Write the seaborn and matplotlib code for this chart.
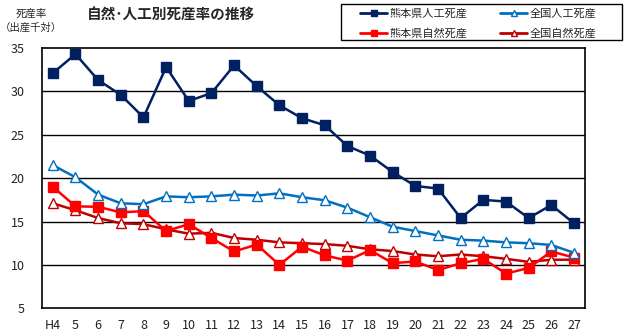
import matplotlib
matplotlib.use("Agg")
import matplotlib.pyplot as plt
import seaborn as sns
import pandas as pd
import numpy as np
from matplotlib.lines import Line2D
from matplotlib.patches import Rectangle

sns.set_theme(style="white")
plt.rcParams['font.family'] = ['Noto Sans CJK JP', 'DejaVu Sans']

years = ["H4"] + [str(i) for i in range(5, 28)]
kuma_art = [32.1, 34.3, 31.3, 29.6, 27.0, 32.8, 28.9, 29.8, 33.0, 30.6, 28.4, 26.9,
            26.1, 23.7, 22.6, 20.7, 19.1, 18.8, 15.4, 17.5, 17.3, 15.4, 16.9, 14.8]
nat_art = [21.5, 20.1, 18.1, 17.1, 17.0, 17.9, 17.8, 17.9, 18.1, 18.0, 18.25, 17.8,
           17.45, 16.6, 15.5, 14.4, 13.9, 13.4, 12.9, 12.8, 12.6, 12.5, 12.3, 11.4]
kuma_nat = [19.0, 16.75, 16.7, 16.05, 16.2, 13.9, 14.7, 13.1, 11.55, 12.35, 10.0, 12.1,
            11.1, 10.5, 11.7, 10.2, 10.4, 9.4, 10.2, 10.7, 9.0, 9.65, 11.55, 10.85]
nat_nat = [17.1, 16.3, 15.4, 14.8, 14.7, 14.1, 13.6, 13.7, 13.1, 12.9, 12.6, 12.5,
           12.4, 12.2, 11.8, 11.6, 11.2, 11.0, 11.2, 11.0, 10.7, 10.35, 10.6, 10.6]

series = [
    ("熊本県人工死産", kuma_art, "#002060", "s", "#002060"),
    ("全国人工死産", nat_art, "#0070C0", "^", "white"),
    ("熊本県自然死産", kuma_nat, "#FF0000", "s", "#FF0000"),
    ("全国自然死産", nat_nat, "#C00000", "^", "white"),
]

fig = plt.figure(figsize=(6.3, 3.34), dpi=100)
ax = fig.add_axes([41.5 / 630, 1 - 308.3 / 334, (585.3 - 41.5) / 630, (308.3 - 48) / 334])

pos = np.arange(len(years))
draw_order = [3, 2, 1, 0]
for i in draw_order:
    name, vals, col, mk, fc = series[i]
    df = pd.DataFrame({"x": pos, "y": vals})
    sns.lineplot(data=df, x="x", y="y", ax=ax, color=col, linewidth=1.8,
                 marker=mk, markersize=6.5,
                 markerfacecolor=fc, markeredgecolor=col, markeredgewidth=1.0,
                 zorder=3 + (4 - i))

ax.set_xlim(-0.5, len(years) - 0.5)
ax.set_ylim(5, 35)
ax.set_yticks(range(5, 40, 5))
ax.set_yticklabels([str(v) for v in range(5, 40, 5)], fontsize=9, color="#222222")
ax.set_xticks(pos)
ax.set_xticklabels(years, fontsize=9, color="#222222")
ax.set_xticks(np.arange(0.5, len(years) - 1, 1), minor=True)
ax.tick_params(axis="x", which="major", length=0, pad=8)
ax.tick_params(axis="x", which="minor", length=4, direction="in", color="black", width=1)
ax.tick_params(axis="y", length=0, pad=12)
ax.set_xlabel("")
ax.set_ylabel("")
for y in range(10, 35, 5):
    ax.axhline(y, color="black", linewidth=1.0, zorder=1)
for sp in ax.spines.values():
    sp.set_visible(True)
    sp.set_color("black")
    sp.set_linewidth(1.2)

fig.text(31 / 630, 1 - 14 / 334, "死産率", fontsize=7.5, ha="center", va="center")
fig.text(31 / 630, 1 - 28 / 334, "（出産千対）", fontsize=7.5, ha="center", va="center")
fig.text(171 / 630, 1 - 15 / 334, "自然･人工別死産率の推移", fontsize=10.5,
         fontweight="bold", ha="center", va="center")

# legend frame
fig.patches.append(Rectangle((341 / 630, 1 - 40 / 334), (622 - 341) / 630, 36 / 334,
                             transform=fig.transFigure, fill=True, facecolor="white",
                             edgecolor="black", linewidth=1.0, zorder=5))

handles = []
labels = []
for i in [0, 2, 1, 3]:
    name, vals, col, mk, fc = series[i]
    handles.append(Line2D([], [], color=col, linewidth=2, marker=mk, markersize=5,
                          markerfacecolor=fc, markeredgecolor=col))
    labels.append(name)
leg = fig.legend(handles, labels,
                 loc="upper left", bbox_to_anchor=(357 / 630, 1 - 5 / 334),
                 ncol=2, fontsize=8, frameon=False, borderaxespad=0,
                 handlelength=2.4, handletextpad=0.2,
                 columnspacing=3.0, borderpad=0.3, labelspacing=0.85)
leg.set_zorder(6)

fig.savefig("out.png", dpi=100)
